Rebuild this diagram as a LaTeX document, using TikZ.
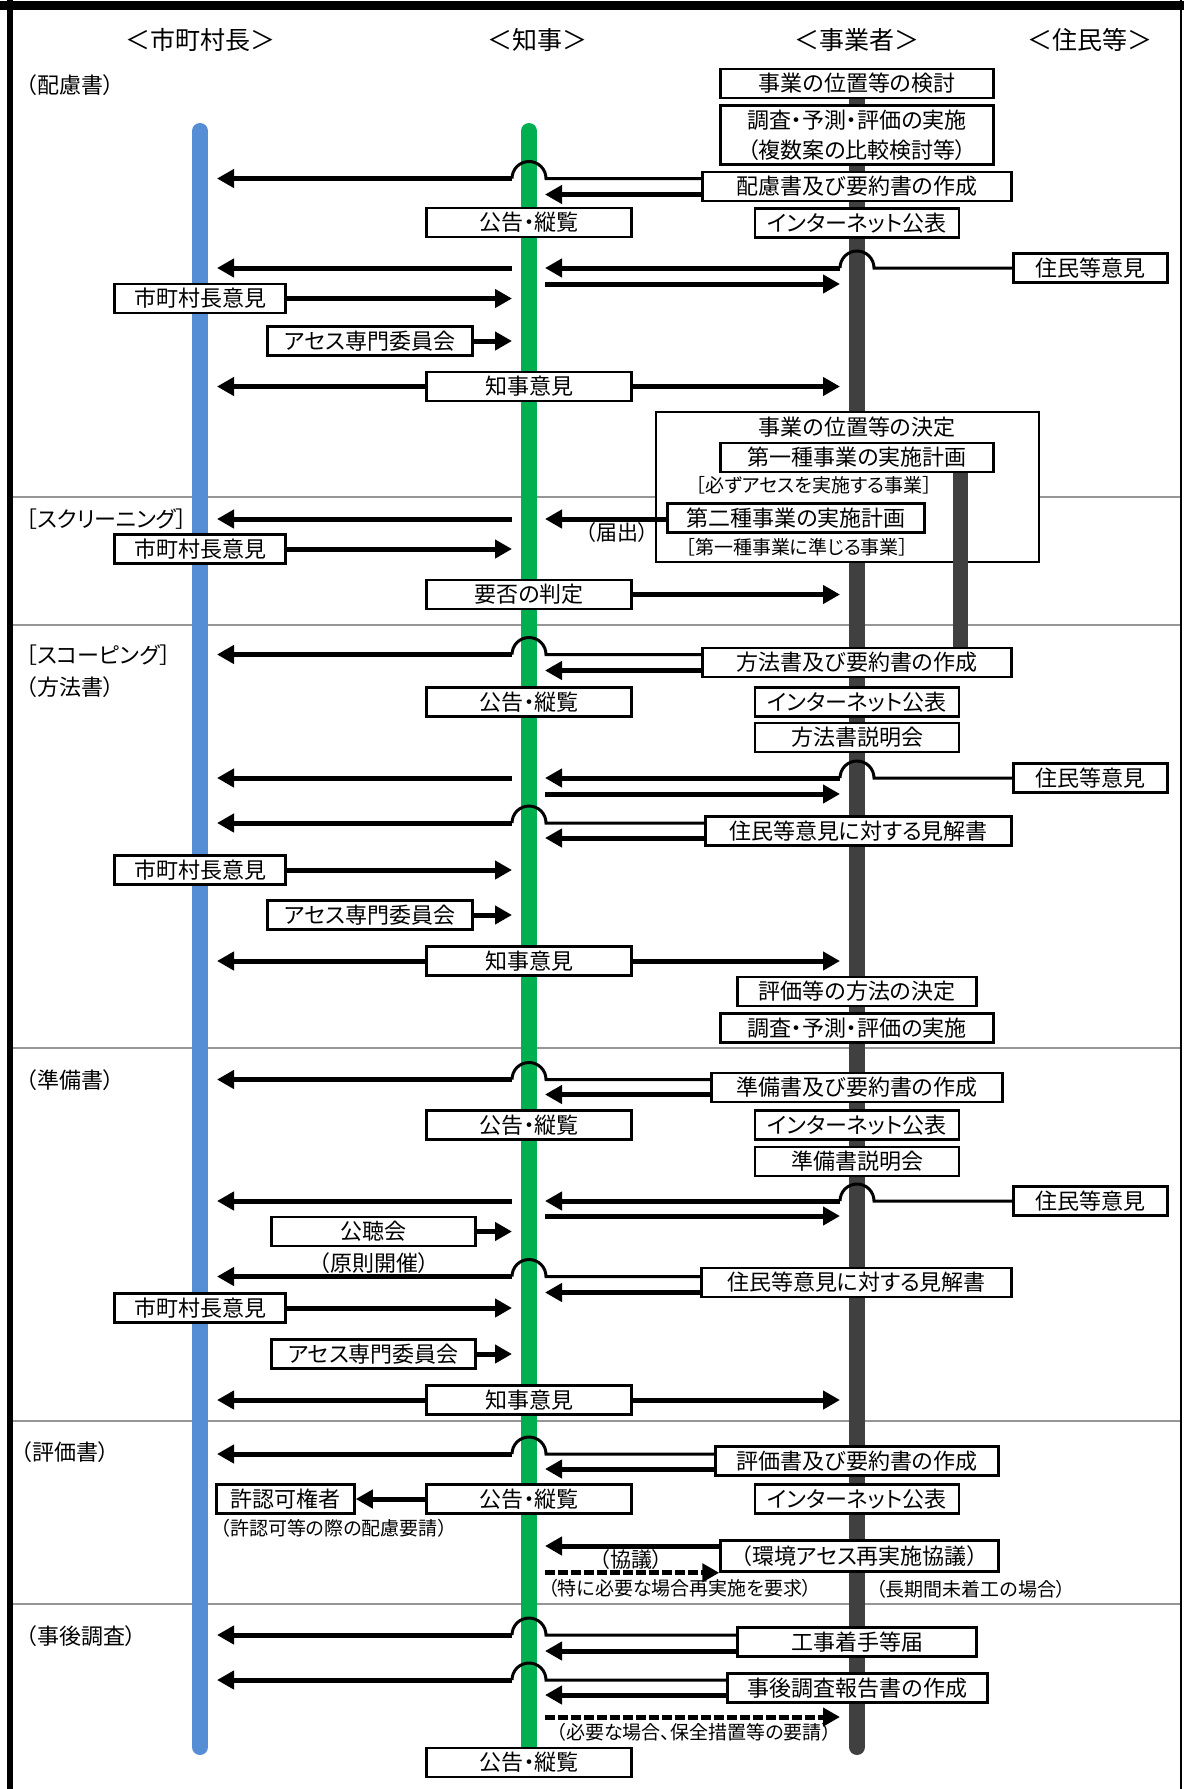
\documentclass[tikz,border=0pt]{standalone}
\usepackage{fontspec}
\setmainfont{Noto Sans CJK JP}[RawFeature=+palt]
\usepackage{tikz}
\usetikzlibrary{arrows.meta}
\usetikzlibrary{calc,positioning}
\definecolor{shiblue}{RGB}{85,142,213}
\definecolor{kengreen}{RGB}{0,176,80}
\definecolor{jigyogray}{RGB}{64,64,64}
\definecolor{sepgray}{RGB}{150,150,150}

\begin{document}
\begin{tikzpicture}[x=1pt, y=-1pt, >={Triangle[length=17pt,width=18pt]}]
	\tikzstyle{box}=[rectangle, draw=black, line width=2.5pt, fill=white, minimum height=29pt, inner sep=0pt, font=\fontsize{22pt}{30pt}\selectfont]
	\tikzstyle{head}=[inner sep=0pt, font=\fontsize{25pt}{30pt}\selectfont]
	\tikzstyle{sect}=[inner sep=0pt, anchor=west, font=\fontsize{22pt}{30pt}\selectfont]
	\tikzstyle{note}=[inner sep=0pt, font=\fontsize{19pt}{23pt}\selectfont]
	\tikzstyle{connect}=[->, line width=5pt]
	\tikzstyle{bridge}=[line width=3pt]
	\tikzstyle{request}=[->, line width=5pt, dash pattern=on 10pt off 3pt]
	\tikzstyle{lane}=[line width=16pt, line cap=round]
	\tikzstyle{divider}=[draw=sepgray, line width=2pt]
	
	\useasboundingbox (0,0) rectangle (1184,1789);
	
	% frame
	\draw[line width=9pt] (0,5) -- (1184,5);
	\draw[line width=6pt] (10,0) -- (10,1789);
	\draw[line width=2pt] (1181,0) -- (1181,1789);
	
	% section dividers
	\draw[divider] (13,497) -- (1180,497);
	\draw[divider] (13,625) -- (1180,625);
	\draw[divider] (13,1048) -- (1180,1048);
	\draw[divider] (13,1421) -- (1180,1421);
	\draw[divider] (13,1604) -- (1180,1604);
	
	% lanes
	\coordinate (shi) at (200,131);
	\coordinate (ken) at (529,131);
	\coordinate (jig) at (857,131);
	\draw[lane, shiblue] (shi) -- (200,1747);
	\draw[lane, kengreen] (ken) -- (529,1752);
	\draw[lane, jigyogray] (857,90) -- (857,1747);
	
	\node[head] (hshi) at (200,40) {＜市町村長＞};
	\node[head] (hken) at (537,40) {＜知事＞};
	\node[head] (hjig) at (857,40) {＜事業者＞};
	\node[head] (hjum) at (1090,40) {＜住民等＞};
	
	\node[sect] (shairyo) at (26,85) {（配慮書）};
	\node[sect] (sscreen) at (26,519) {［スクリーニング］};
	\node[sect] (sscope) at (26,655) {［スコーピング］};
	\node[sect] (shouhou) at (26,687) {（方法書）};
	\node[sect] (sjunbi) at (26,1080) {（準備書）};
	\node[sect] (shyoka) at (21,1452) {（評価書）};
	\node[sect] (sjigo) at (26,1636) {（事後調査）};
	
	% position decision
	\node[draw=black, line width=2pt, fill=white, minimum width=383pt, minimum height=150pt, inner sep=0pt] (kettei) at (847.5,487) {};
	\draw[line width=15pt, jigyogray] (960,473) -- (960,648);
	\node[sect, anchor=center] (ketteitxt) at (857,427) {事業の位置等の決定};
	\node[box, minimum width=273pt] (dai1) at (857,457.5) {第一種事業の実施計画};
	\node[note] (dai1txt) at (814,485) {［必ずアセスを実施する事業］};
	\node[box, minimum width=257pt] (dai2) at (796,518) {第二種事業の実施計画};
	\node[note] (dai2txt) at (797,547) {［第一種事業に準じる事業］};
	\node[sect, anchor=center, font=\fontsize{21pt}{26pt}\selectfont] (todoke) at (617,533) {（届出）};
	
	% hairyo-sho
	\node[box, minimum width=273pt] (kento) at (857,83.5) {事業の位置等の検討};
	\node[box, minimum width=273pt, minimum height=59pt, align=center] (chosa1) [below=5pt of kento] {調査・予測・評価の実施\\（複数案の比較検討等）};
	\node[box, minimum width=309pt] (haiso) [below=5pt of chosa1] {配慮書及び要約書の作成};
	\node[box, minimum width=204pt] (net1) [below=5pt of haiso] {インターネット公表};
	\node[box, minimum width=205pt] (koukoku1) at (529,222.5) {公告・縦覧};
	\node[box, minimum width=154pt] (jumin1) at (1090.5,268) {住民等意見};
	\node[box, minimum width=171pt] (shiiken1) at (200,298.5) {市町村長意見};
	\node[box, minimum width=205pt] (assess1) at (370,341) {アセス専門委員会};
	\node[box, minimum width=205pt] (chijiiken1) at (529,386.5) {知事意見};
	\node[box, minimum width=171pt] (shiiken2) at (200,549) {市町村長意見};
	\node[box, minimum width=205pt] (yohi) at (529,594.5) {要否の判定};
	
	% houhou-sho
	\node[box, minimum width=309pt] (houhou) at (857,662.5) {方法書及び要約書の作成};
	\node[box, minimum width=205pt] (koukoku2) at (529,702) {公告・縦覧};
	\node[box, minimum width=204pt] (net2) at (857,702) {インターネット公表};
	\node[box, minimum width=204pt] (setsumei1) [below=4pt of net2] {方法書説明会};
	\node[box, minimum width=154pt] (jumin2) at (1090.5,778) {住民等意見};
	\node[box, minimum width=306pt] (kenkai1) at (858.5,831) {住民等意見に対する見解書};
	\node[box, minimum width=171pt] (shiiken3) at (200,870) {市町村長意見};
	\node[box, minimum width=205pt] (assess2) at (370,915) {アセス専門委員会};
	\node[box, minimum width=205pt] (chijiiken2) at (529,961) {知事意見};
	\node[box, minimum width=239pt] (houhouketei) at (857,991.5) {評価等の方法の決定};
	\node[box, minimum width=273pt] (chosa2) [below=5pt of houhouketei] {調査・予測・評価の実施};
	
	% junbi-sho
	\node[box, minimum width=291pt] (junbi) at (857,1087.5) {準備書及び要約書の作成};
	\node[box, minimum width=205pt] (koukoku3) at (529,1125) {公告・縦覧};
	\node[box, minimum width=204pt] (net3) at (857,1125) {インターネット公表};
	\node[box, minimum width=204pt] (setsumei2) [below=5pt of net3] {準備書説明会};
	\node[box, minimum width=154pt] (jumin3) at (1090.5,1201) {住民等意見};
	\node[box, minimum width=204pt] (kochokai) at (373.5,1231.5) {公聴会};
	\node[sect, anchor=center] (gensoku) at (374,1263) {（原則開催）};
	\node[box, minimum width=310pt] (kenkai2) at (856.5,1282.5) {住民等意見に対する見解書};
	\node[box, minimum width=171pt] (shiiken4) at (200,1308) {市町村長意見};
	\node[box, minimum width=204pt] (assess3) at (373.5,1354) {アセス専門委員会};
	\node[box, minimum width=205pt] (chijiiken3) at (529,1400) {知事意見};
	
	% hyoka-sho
	\node[box, minimum width=283pt] (hyoka) at (857,1461) {評価書及び要約書の作成};
	\node[box, minimum width=205pt] (koukoku4) at (529,1499) {公告・縦覧};
	\node[box, minimum width=204pt] (net4) at (857,1499) {インターネット公表};
	\node[box, minimum width=138pt] (kyoninka) at (285.5,1499) {許認可権者};
	\node[note] (hairyoyosei) at (334,1528) {（許認可等の際の配慮要請）};
	\node[box, minimum width=278pt, minimum height=31pt] (saijisshi) at (859.5,1556) {（環境アセス再実施協議）};
	\node[sect, anchor=center, font=\fontsize{21pt}{26pt}\selectfont] (kyogi) at (631,1559) {（協議）};
	\node[note] (yokyu) at (680,1588) {（特に必要な場合再実施を要求）};
	\node[note] (michakko) at (971,1589) {（長期間未着工の場合）};
	
	% jigo chosa
	\node[box, minimum width=239pt] (chakushu) at (857,1642) {工事着手等届};
	\node[box, minimum width=260pt] (jigo) at (857.5,1688) {事後調査報告書の作成};
	\node[note] (hozen) at (694,1732) {（必要な場合、保全措置等の要請）};
	\node[box, minimum width=205pt] (koukoku5) at (529,1762.5) {公告・縦覧};
	
	% bridges over the lanes
	\draw[bridge] ($(haiso.west)+(0,-8)$) -- ($(ken |- haiso.west)+(17,-8)$) arc[start angle=0, end angle=-180, radius=17];
	\draw[bridge] (jumin1.west) -- ($(jig |- jumin1.west)+(17,0)$) arc[start angle=0, end angle=-180, radius=17];
	\draw[bridge] ($(houhou.west)+(0,-8)$) -- ($(ken |- houhou.west)+(17,-8)$) arc[start angle=0, end angle=-180, radius=17];
	\draw[bridge] (jumin2.west) -- ($(jig |- jumin2.west)+(17,0)$) arc[start angle=0, end angle=-180, radius=17];
	\draw[bridge] ($(kenkai1.west)+(0,-8)$) -- ($(ken |- kenkai1.west)+(17,-8)$) arc[start angle=0, end angle=-180, radius=17];
	\draw[bridge] ($(junbi.west)+(0,-8)$) -- ($(ken |- junbi.west)+(17,-8)$) arc[start angle=0, end angle=-180, radius=17];
	\draw[bridge] (jumin3.west) -- ($(jig |- jumin3.west)+(17,0)$) arc[start angle=0, end angle=-180, radius=17];
	\draw[bridge] ($(kenkai2.west)+(0,-6)$) -- ($(ken |- kenkai2.west)+(17,-6)$) arc[start angle=0, end angle=-180, radius=17];
	\draw[bridge] ($(hyoka.west)+(0,-7)$) -- ($(ken |- hyoka.west)+(17,-7)$) arc[start angle=0, end angle=-180, radius=17];
	\draw[bridge] ($(chakushu.west)+(0,-7)$) -- ($(ken |- chakushu.west)+(17,-7)$) arc[start angle=0, end angle=-180, radius=17];
	\draw[bridge] ($(jigo.west)+(0,-8)$) -- ($(ken |- jigo.west)+(17,-8)$) arc[start angle=0, end angle=-180, radius=17];
	
	\path ($(ken |- haiso.west)+(-17,-8)$) edge [connect] ($(shi |- haiso.west)+(17,-8)$)
	($(haiso.west)+(0,8)$) edge [connect] ($(ken |- haiso.west)+(16,8)$)
	
	($(jig |- jumin1.west)+(-17,0)$) edge [connect] ($(ken |- jumin1.west)+(16,0)$)
	($(ken |- jumin1.west)+(-17,0)$) edge [connect] ($(shi |- jumin1.west)+(17,0)$)
	($(ken |- jumin1.west)+(16,16)$) edge [connect] ($(jig |- jumin1.west)+(-17,16)$)
	
	(shiiken1.east) edge [connect] ($(ken |- shiiken1.east)+(-17,0)$)
	(assess1.east) edge [connect] ($(ken |- assess1.east)+(-17,0)$)
	(chijiiken1.west) edge [connect] ($(shi |- chijiiken1.west)+(17,0)$)
	(chijiiken1.east) edge [connect] ($(jig |- chijiiken1.east)+(-17,0)$)
	
	($(dai2.west)+(0,1)$) edge [connect] ($(ken |- dai2.west)+(16,1)$)
	($(ken |- dai2.west)+(-17,1)$) edge [connect] ($(shi |- dai2.west)+(17,1)$)
	(shiiken2.east) edge [connect] ($(ken |- shiiken2.east)+(-17,0)$)
	(yohi.east) edge [connect] ($(jig |- yohi.east)+(-17,0)$)
	
	($(ken |- houhou.west)+(-17,-8)$) edge [connect] ($(shi |- houhou.west)+(17,-8)$)
	($(houhou.west)+(0,8)$) edge [connect] ($(ken |- houhou.west)+(16,8)$)
	
	($(jig |- jumin2.west)+(-17,0)$) edge [connect] ($(ken |- jumin2.west)+(16,0)$)
	($(ken |- jumin2.west)+(-17,0)$) edge [connect] ($(shi |- jumin2.west)+(17,0)$)
	($(ken |- jumin2.west)+(16,16)$) edge [connect] ($(jig |- jumin2.west)+(-17,16)$)
	
	($(ken |- kenkai1.west)+(-17,-8)$) edge [connect] ($(shi |- kenkai1.west)+(17,-8)$)
	($(kenkai1.west)+(0,7)$) edge [connect] ($(ken |- kenkai1.west)+(16,7)$)
	(shiiken3.east) edge [connect] ($(ken |- shiiken3.east)+(-17,0)$)
	(assess2.east) edge [connect] ($(ken |- assess2.east)+(-17,0)$)
	(chijiiken2.west) edge [connect] ($(shi |- chijiiken2.west)+(17,0)$)
	(chijiiken2.east) edge [connect] ($(jig |- chijiiken2.east)+(-17,0)$)
	
	($(ken |- junbi.west)+(-17,-8)$) edge [connect] ($(shi |- junbi.west)+(17,-8)$)
	($(junbi.west)+(0,7)$) edge [connect] ($(ken |- junbi.west)+(16,7)$)
	
	($(jig |- jumin3.west)+(-17,0)$) edge [connect] ($(ken |- jumin3.west)+(16,0)$)
	($(ken |- jumin3.west)+(-17,0)$) edge [connect] ($(shi |- jumin3.west)+(17,0)$)
	($(ken |- jumin3.west)+(16,15)$) edge [connect] ($(jig |- jumin3.west)+(-17,15)$)
	(kochokai.east) edge [connect] ($(ken |- kochokai.east)+(-17,0)$)
	
	($(ken |- kenkai2.west)+(-17,-6)$) edge [connect] ($(shi |- kenkai2.west)+(17,-6)$)
	($(kenkai2.west)+(0,10)$) edge [connect] ($(ken |- kenkai2.west)+(16,10)$)
	(shiiken4.east) edge [connect] ($(ken |- shiiken4.east)+(-17,0)$)
	(assess3.east) edge [connect] ($(ken |- assess3.east)+(-17,0)$)
	(chijiiken3.west) edge [connect] ($(shi |- chijiiken3.west)+(17,0)$)
	(chijiiken3.east) edge [connect] ($(jig |- chijiiken3.east)+(-17,0)$)
	
	($(ken |- hyoka.west)+(-17,-7)$) edge [connect] ($(shi |- hyoka.west)+(17,-7)$)
	($(hyoka.west)+(0,8)$) edge [connect] ($(ken |- hyoka.west)+(16,8)$)
	(koukoku4.west) edge [connect] (kyoninka.east)
	($(saijisshi.west)+(0,-10)$) edge [connect] ($(ken |- saijisshi.west)+(16,-10)$)
	($(ken |- saijisshi.south west)+(16,0)$) edge [request] (saijisshi.south west)
	
	($(ken |- chakushu.west)+(-17,-7)$) edge [connect] ($(shi |- chakushu.west)+(17,-7)$)
	($(chakushu.west)+(0,9)$) edge [connect] ($(ken |- chakushu.west)+(16,9)$)
	($(ken |- jigo.west)+(-17,-8)$) edge [connect] ($(shi |- jigo.west)+(17,-8)$)
	($(jigo.west)+(0,7)$) edge [connect] ($(ken |- jigo.west)+(16,7)$)
	($(ken |- jigo.west)+(16,29)$) edge [request] ($(jig |- jigo.west)+(-17,29)$);
	
\end{tikzpicture}
\end{document}
